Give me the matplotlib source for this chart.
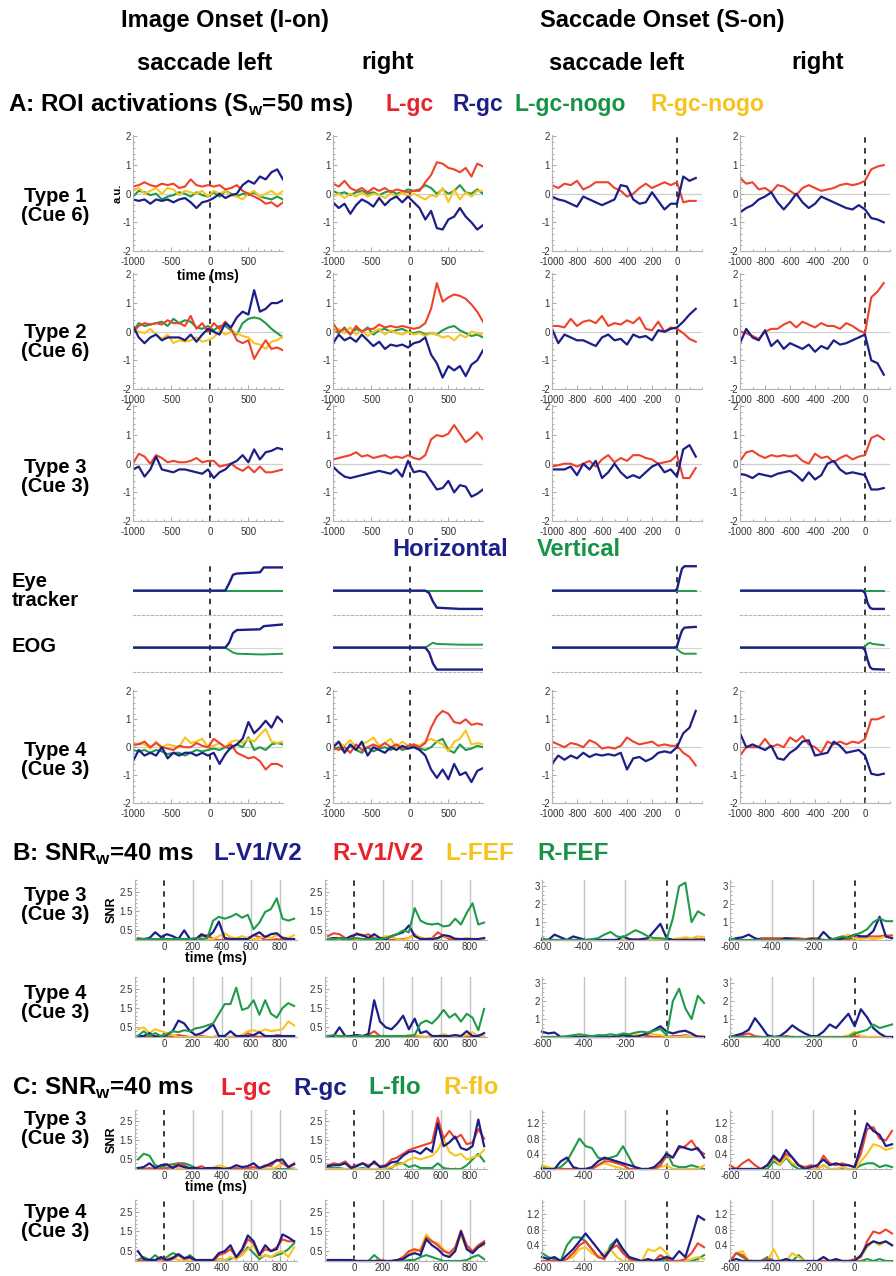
import matplotlib
matplotlib.use('Agg')
import matplotlib.pyplot as plt
from matplotlib.ticker import AutoMinorLocator

plt.rcParams['font.family'] = ['Liberation Sans', 'DejaVu Sans']
plt.rcParams['axes.unicode_minus'] = False
plt.rcParams['mathtext.fontset'] = 'custom'
plt.rcParams['mathtext.rm'] = 'Liberation Sans:bold'

W, H = 896, 1276

# trace colours
LINE = {'red': '#f0412b', 'blue': '#1c1f87', 'green': '#1e9b48', 'yellow': '#f7c51e'}

# ---------------- sampling grids (ms) ----------------
t_ion = [-1000, -925, -850, -775, -700, -625, -550, -475, -400, -325, -250, -175, -100, -25,
         50, 125, 200, 275, 350, 425, 500, 575, 650, 725, 800, 875, 950]
t_son = [-1000, -950, -900, -850, -800, -750, -700, -650, -600, -550, -500, -450,
         -400, -350, -300, -250, -200, -150, -100, -50, 0, 50, 100, 150]
t_snr_ion = [-180, -140, -100, -60, -20, 20, 60, 100, 140, 180, 220, 260, 300, 340,
             380, 420, 460, 500, 540, 580, 620, 660, 700, 740, 780, 820, 860, 900]
t_snr_son = [-600, -570, -540, -510, -480, -450, -420, -390, -360, -330, -300, -270, -240, -210,
             -180, -150, -120, -90, -60, -30, 0, 30, 60, 90, 120, 150, 180]

# ---------------- A: ROI activations ----------------
a1_left = {
    'green': [-0.1, 0.1, 0.05, -0.05, 0.0, -0.2, -0.1, -0.05, 0.05, 0.0, -0.1, 0.05, -0.05, -0.1, 0.05, -0.1, 0.1, 0.0, -0.1, 0.0, -0.05, 0.05, -0.1, -0.15, -0.2, -0.1, -0.2],
    'yellow': [0.1, 0.2, 0.0, 0.1, 0.2, 0.0, 0.2, 0.15, -0.05, 0.1, 0.05, 0.0, 0.1, -0.1, 0.1, 0.0, 0.1, -0.05, -0.1, -0.2, 0.0, 0.1, -0.1, 0.0, 0.1, -0.05, 0.1],
    'red': [0.25, 0.3, 0.4, 0.3, 0.25, 0.35, 0.3, 0.35, 0.2, 0.25, 0.5, 0.3, 0.25, 0.3, 0.25, 0.3, 0.15, 0.2, 0.3, 0.1, 0.0, -0.1, -0.2, -0.35, -0.3, -0.45, -0.3],
    'blue': [-0.2, -0.25, -0.2, -0.35, -0.2, -0.25, -0.2, -0.3, -0.2, -0.15, -0.3, -0.5, -0.3, -0.25, -0.15, 0.0, -0.15, -0.05, 0.0, 0.3, 0.45, 0.35, 0.6, 0.5, 0.75, 0.85, 0.5],
}
a1_right = {
    'green': [0.1, 0.0, 0.05, -0.05, 0.05, 0.1, 0.0, 0.05, -0.05, 0.05, 0.1, 0.0, 0.05, 0.15, 0.1, 0.15, 0.3, 0.2, 0.0, 0.15, 0.0, 0.1, 0.3, 0.05, 0.0, 0.15, 0.0],
    'yellow': [-0.1, 0.0, -0.15, 0.0, -0.1, 0.05, -0.1, 0.0, -0.05, -0.15, 0.0, -0.1, 0.05, -0.1, 0.0, -0.1, -0.2, -0.05, -0.1, 0.2, -0.3, 0.15, -0.2, 0.05, -0.1, 0.1, 0.1],
    'red': [0.35, 0.25, 0.45, 0.2, 0.1, 0.2, 0.05, 0.2, 0.1, 0.2, 0.05, 0.15, 0.1, 0.05, 0.1, 0.1, 0.4, 0.65, 1.1, 1.05, 0.9, 0.85, 0.75, 0.9, 0.6, 1.05, 0.95],
    'blue': [-0.3, -0.5, -0.35, -0.7, -0.4, -0.2, -0.3, -0.45, -0.15, -0.4, -0.2, -0.1, -0.3, -0.1, -0.3, -0.5, -0.9, -0.6, -1.2, -1.25, -0.9, -0.8, -0.5, -0.8, -1.0, -1.25, -1.1],
}
a1_son_left = {
    'red': [0.3, 0.2, 0.35, 0.3, 0.45, 0.15, 0.25, 0.4, 0.4, 0.4, 0.2, 0.1, -0.1, 0.0, 0.2, 0.35, 0.2, 0.3, 0.4, 0.3, 0.4, -0.3, -0.25, -0.25],
    'blue': [-0.1, -0.2, -0.25, -0.35, -0.45, -0.1, -0.2, -0.3, -0.4, -0.3, -0.2, 0.3, 0.25, -0.2, -0.35, -0.3, 0.05, -0.25, -0.55, -0.35, -0.35, 0.6, 0.45, 0.55],
}
a1_son_right = {
    'red': [0.55, 0.35, 0.4, 0.15, 0.2, 0.05, 0.3, 0.25, 0.1, -0.05, 0.2, 0.3, 0.2, 0.1, 0.15, 0.2, 0.3, 0.35, 0.3, 0.35, 0.45, 0.85, 0.95, 1.0],
    'blue': [-0.65, -0.5, -0.4, -0.2, -0.1, 0.05, -0.3, -0.55, -0.3, 0.0, -0.3, -0.5, -0.35, -0.1, -0.2, -0.3, -0.4, -0.5, -0.55, -0.4, -0.55, -0.85, -0.9, -1.0],
}

a2_left = {
    'green': [0.0, 0.3, 0.2, 0.25, 0.3, 0.35, 0.2, 0.45, 0.3, 0.4, 0.35, 0.15, 0.1, 0.2, 0.05, 0.2, 0.2, 0.05, -0.1, 0.3, 0.45, 0.5, 0.45, 0.3, 0.1, -0.05, -0.2],
    'yellow': [0.1, 0.0, -0.05, 0.1, -0.1, -0.25, -0.1, -0.4, -0.3, -0.35, -0.3, -0.2, -0.35, -0.3, -0.2, 0.05, -0.1, 0.0, -0.05, -0.15, -0.2, -0.4, -0.45, -0.6, -0.35, -0.3, -0.15],
    'red': [0.0, 0.2, 0.3, 0.25, 0.3, 0.25, 0.4, 0.3, 0.3, 0.2, 0.55, 0.1, 0.3, 0.0, 0.3, 0.1, 0.35, 0.1, -0.3, -0.4, -0.3, -0.95, -0.6, -0.3, -0.6, -0.55, -0.65],
    'blue': [0.2, -0.2, -0.4, -0.2, -0.1, -0.3, -0.2, -0.2, -0.2, -0.3, -0.1, -0.35, -0.1, 0.1, 0.0, -0.1, 0.3, 0.15, 0.5, 0.7, 0.6, 1.45, 0.7, 0.8, 1.0, 1.0, 1.1],
}
a2_right = {
    'green': [0.1, -0.05, 0.15, -0.1, 0.1, 0.0, 0.15, -0.1, 0.05, 0.1, 0.0, 0.05, 0.1, 0.0, -0.05, 0.0, -0.1, -0.05, -0.1, 0.05, 0.15, 0.2, 0.05, -0.05, -0.15, -0.1, -0.2],
    'yellow': [0.0, 0.1, -0.05, 0.15, -0.1, 0.05, -0.15, 0.0, 0.1, -0.1, 0.05, -0.05, -0.1, 0.0, -0.1, -0.05, -0.15, -0.05, -0.1, -0.2, -0.15, -0.3, -0.1, -0.2, 0.0, -0.05, -0.1],
    'red': [0.3, 0.0, 0.1, -0.1, 0.2, 0.0, 0.1, 0.1, 0.25, 0.15, 0.2, 0.15, 0.2, 0.15, 0.1, 0.15, 0.3, 0.8, 1.7, 1.05, 1.2, 1.3, 1.25, 1.15, 0.95, 0.7, 0.35],
    'blue': [-0.4, -0.1, -0.3, -0.2, -0.35, -0.1, -0.3, -0.5, -0.35, -0.6, -0.45, -0.5, -0.45, -0.55, -0.4, -0.35, -0.2, -0.8, -1.1, -1.6, -1.2, -1.35, -1.2, -1.55, -1.15, -1.0, -0.65],
}
a2_son_left = {
    'red': [0.2, 0.2, 0.15, 0.45, 0.2, 0.35, 0.4, 0.3, 0.55, 0.2, 0.3, 0.25, 0.4, 0.3, 0.5, 0.1, 0.05, 0.35, 0.0, 0.15, 0.1, -0.05, -0.25, -0.35],
    'blue': [0.1, -0.4, -0.1, -0.2, -0.3, -0.3, -0.4, -0.5, -0.2, -0.1, -0.3, -0.25, -0.45, -0.1, -0.2, -0.15, -0.3, 0.05, 0.0, 0.1, 0.15, 0.35, 0.6, 0.8],
}
a2_son_right = {
    'red': [0.0, -0.05, -0.15, -0.25, 0.0, 0.1, 0.1, 0.25, 0.35, 0.15, 0.35, 0.25, 0.15, 0.3, 0.2, 0.2, 0.1, 0.3, 0.2, 0.05, -0.05, 1.2, 1.4, 1.7],
    'blue': [-0.4, 0.1, -0.2, -0.3, 0.05, -0.5, -0.3, -0.6, -0.4, -0.5, -0.6, -0.45, -0.7, -0.5, -0.6, -0.3, -0.45, -0.4, -0.3, -0.2, -0.1, -1.0, -1.1, -1.5],
}

a3_left = {
    'red': [0.0, 0.35, 0.25, 0.0, 0.3, 0.2, 0.05, 0.1, 0.05, 0.05, 0.1, 0.2, 0.05, 0.1, 0.1, -0.1, -0.05, 0.0, -0.15, -0.25, -0.1, -0.3, -0.1, -0.3, -0.3, -0.25, -0.2],
    'blue': [-0.2, -0.1, -0.45, -0.2, 0.25, -0.2, -0.25, -0.3, -0.2, -0.2, -0.25, -0.3, -0.35, -0.2, -0.5, -0.3, -0.2, 0.0, 0.1, 0.3, 0.05, 0.5, 0.15, 0.4, 0.45, 0.55, 0.5],
}
a3_right = {
    'red': [0.15, 0.2, 0.25, 0.3, 0.4, 0.25, 0.3, 0.2, 0.25, 0.3, 0.2, 0.25, 0.2, 0.3, 0.2, 0.15, 0.3, 0.85, 1.0, 0.95, 1.05, 1.35, 1.05, 0.75, 0.9, 1.1, 0.85],
    'blue': [-0.1, -0.3, -0.45, -0.5, -0.45, -0.4, -0.35, -0.3, -0.25, -0.3, -0.35, -0.2, -0.45, 0.1, -0.3, -0.25, -0.3, -0.6, -0.9, -0.85, -0.6, -1.0, -0.75, -0.8, -1.15, -1.05, -0.9],
}
a3_son_left = {
    'red': [-0.1, -0.05, 0.0, 0.0, -0.1, 0.0, 0.1, -0.1, 0.15, 0.3, 0.05, 0.2, 0.1, 0.3, 0.3, 0.2, 0.15, 0.0, 0.05, 0.1, 0.3, -0.5, -0.5, -0.15],
    'blue': [-0.2, -0.2, -0.2, -0.1, -0.4, 0.0, -0.2, 0.1, -0.5, -0.3, 0.0, -0.3, -0.5, -0.4, -0.5, -0.3, -0.1, 0.0, -0.3, -0.2, -0.45, 0.5, 0.65, 0.25],
}
a3_son_right = {
    'red': [0.1, 0.4, 0.45, 0.3, 0.2, 0.3, 0.25, 0.3, 0.25, 0.3, 0.1, 0.0, 0.35, 0.2, 0.25, 0.05, 0.2, 0.3, 0.15, 0.25, 0.3, 0.9, 1.0, 0.85],
    'blue': [-0.35, -0.4, -0.5, -0.35, -0.4, -0.45, -0.35, -0.3, -0.25, -0.4, -0.6, -0.3, -0.55, -0.4, 0.0, 0.1, -0.2, -0.35, -0.3, -0.35, -0.4, -0.9, -0.9, -0.85],
}

a4_left = {
    'green': [-0.1, -0.15, -0.1, -0.2, -0.1, -0.15, -0.25, -0.2, -0.2, -0.3, -0.2, -0.1, -0.15, -0.1, -0.05, -0.1, 0.0, -0.05, 0.1, 0.0, 0.35, -0.1, 0.0, -0.1, 0.1, 0.15, 0.1],
    'yellow': [0.0, 0.15, 0.1, -0.05, 0.2, 0.0, 0.1, 0.05, 0.0, 0.35, 0.15, 0.2, 0.3, 0.0, 0.05, 0.15, 0.0, 0.2, 0.25, 0.15, 0.3, 0.2, 0.45, 0.65, 0.2, 0.15, 0.2],
    'red': [0.1, 0.1, 0.2, 0.0, 0.15, 0.0, -0.05, -0.1, 0.05, 0.0, 0.0, 0.15, 0.05, 0.0, 0.3, 0.15, 0.0, 0.1, -0.2, -0.3, -0.4, -0.35, -0.5, -0.8, -0.6, -0.6, -0.7],
    'blue': [-0.5, -0.1, -0.3, -0.2, -0.3, 0.0, -0.4, -0.2, -0.3, -0.2, -0.2, -0.3, -0.2, -0.3, -0.2, -0.6, -0.25, 0.0, 0.1, 0.3, 0.9, 0.5, 0.7, 0.95, 0.7, 1.1, 0.9],
}
a4_right = {
    'green': [-0.1, 0.0, -0.15, 0.05, -0.1, -0.2, 0.0, -0.15, -0.05, 0.0, -0.1, 0.05, -0.1, -0.05, 0.05, -0.05, -0.1, 0.0, 0.2, 0.3, -0.1, -0.2, 0.1, -0.1, -0.05, 0.05, 0.0],
    'yellow': [0.0, 0.15, 0.05, 0.25, 0.0, 0.1, 0.2, 0.35, 0.05, 0.15, 0.3, 0.0, 0.2, 0.05, 0.1, 0.05, 0.2, 0.3, 0.2, 0.1, -0.15, 0.2, 0.3, 0.6, 0.1, 0.15, 0.1],
    'red': [0.0, -0.1, 0.0, -0.2, 0.1, -0.1, 0.0, 0.1, 0.0, 0.15, 0.0, 0.1, -0.05, 0.05, 0.1, 0.0, 0.15, 0.7, 1.1, 1.3, 1.2, 0.9, 0.85, 1.0, 0.8, 0.85, 0.8],
    'blue': [0.0, 0.2, -0.2, 0.1, -0.1, 0.2, -0.3, 0.0, -0.1, -0.2, 0.0, -0.1, 0.05, -0.05, 0.0, -0.1, -0.3, -0.8, -1.1, -0.8, -1.15, -0.6, -1.0, -0.9, -1.25, -0.85, -0.75],
}
a4_son_left = {
    'red': [0.2, 0.1, 0.0, 0.15, 0.1, 0.0, 0.25, 0.15, -0.05, 0.0, -0.05, 0.05, 0.35, 0.2, 0.1, 0.15, 0.2, 0.05, 0.1, 0.05, 0.05, -0.2, -0.35, -0.65],
    'blue': [-0.6, -0.3, -0.45, -0.3, -0.4, -0.2, -0.35, -0.25, -0.3, -0.25, -0.3, -0.2, -0.8, -0.4, -0.35, -0.5, -0.4, -0.2, -0.15, -0.2, 0.0, 0.5, 0.7, 1.3],
}
a4_son_right = {
    'red': [-0.3, 0.0, 0.0, 0.0, 0.3, 0.0, 0.1, 0.0, 0.35, 0.2, 0.4, 0.1, 0.0, -0.2, 0.2, 0.1, 0.2, 0.1, 0.2, 0.15, 0.3, 1.0, 1.0, 1.1],
    'blue': [0.5, 0.0, 0.1, 0.0, -0.1, 0.05, -0.4, -0.45, -0.2, -0.05, 0.2, 0.25, -0.3, -0.25, -0.2, 0.2, 0.05, -0.2, -0.15, -0.1, -0.3, -0.95, -1.0, -0.95],
}

# ---------------- eye tracker / EOG (normalised position) ----------------
eye_t_ion = [-1000, 200, 250, 300, 350, 650, 700, 950]
eye_t_son = [-1000, -20, 0, 20, 40, 60, 150]
eye_left = {'green': [0, 0, 0, 0, 0, 0, 0, 0], 'blue': [0, 0, 0.3, 0.65, 0.7, 0.75, 0.95, 0.95]}
eye_right = {'green': [0, 0, 0, 0, 0, 0, 0, 0], 'blue': [0, 0, -0.1, -0.45, -0.7, -0.75, -0.75, -0.75]}
eye_son_left = {'green': [0, 0, 0, 0, 0, 0, 0], 'blue': [0, 0, 0.05, 0.5, 0.9, 1.0, 1.0]}
eye_son_right = {'green': [0, 0, 0, 0, 0, 0, 0], 'blue': [0, 0, -0.1, -0.5, -0.7, -0.75, -0.75]}
eog_left = {'green': [0, 0, -0.1, -0.2, -0.25, -0.28, -0.28, -0.25], 'blue': [0, 0, 0.2, 0.6, 0.72, 0.75, 0.88, 0.95]}
eog_right = {'green': [0, 0, 0.1, 0.2, 0.15, 0.12, 0.12, 0.12], 'blue': [0, 0, -0.2, -0.65, -0.9, -0.9, -0.9, -0.9]}
eog_son_left = {'green': [0, 0, -0.05, -0.15, -0.22, -0.25, -0.25], 'blue': [0, 0, 0.05, 0.4, 0.7, 0.82, 0.85]}
eog_son_right = {'green': [0, 0, 0.05, 0.15, 0.2, 0.15, 0.1], 'blue': [0, 0, -0.1, -0.5, -0.8, -0.88, -0.9]}

# ---------------- B: SNR, V1/V2 and FEF ----------------
b3_left = {
    'red': [0.1, 0.05, 0.0, 0.0, 0.05, 0.0, 0.0, 0.05, 0.0, 0.0, 0.05, 0.2, 0.25, 0.05, 0.0, 0.0, 0.0, 0.05, 0.0, 0.1, 0.25, 0.15, 0.0, 0.0, 0.05, 0.0, 0.0, 0.0],
    'yellow': [0.0, 0.0, 0.0, 0.0, 0.0, 0.0, 0.0, 0.0, 0.0, 0.0, 0.0, 0.0, 0.0, 0.05, 0.2, 0.35, 0.15, 0.1, 0.2, 0.1, 0.05, 0.1, 0.2, 0.1, 0.25, 0.15, 0.1, 0.25],
    'blue': [0.05, 0.05, 0.1, 0.4, 0.15, 0.3, 0.2, 0.05, 0.5, 0.05, 0.05, 0.3, 0.15, 0.4, 0.95, 0.1, 0.05, 0.05, 0.05, 0.05, 0.25, 0.4, 0.15, 0.3, 0.35, 0.1, 0.05, 0.05],
    'green': [0.05, 0.05, 0.05, 0.05, 0.05, 0.05, 0.05, 0.05, 0.05, 0.05, 0.1, 0.05, 0.1, 1.0, 1.2, 1.1, 1.2, 1.35, 1.15, 1.3, 0.55, 0.9, 1.45, 1.6, 2.15, 1.1, 1.0, 1.1],
}
b3_right = {
    'red': [0.2, 0.35, 0.3, 0.1, 0.05, 0.35, 0.2, 0.3, 0.1, 0.05, 0.0, 0.0, 0.05, 0.05, 0.1, 0.3, 0.05, 0.05, 0.1, 0.4, 0.2, 0.05, 0.0, 0.0, 0.05, 0.0, 0.05, 0.05],
    'yellow': [0.0, 0.0, 0.0, 0.05, 0.0, 0.0, 0.0, 0.0, 0.05, 0.1, 0.2, 0.15, 0.05, 0.0, 0.1, 0.25, 0.15, 0.05, 0.1, 0.05, 0.2, 0.15, 0.1, 0.05, 0.1, 0.05, 0.0, 0.05],
    'blue': [0.05, 0.1, 0.1, 0.05, 0.2, 0.3, 0.25, 0.1, 0.3, 0.1, 0.05, 0.2, 0.3, 0.4, 0.75, 0.2, 0.05, 0.05, 0.05, 0.1, 0.25, 0.2, 0.05, 0.05, 0.05, 0.05, 0.05, 0.1],
    'green': [0.05, 0.05, 0.1, 0.05, 0.05, 0.1, 0.05, 0.05, 0.05, 0.05, 0.1, 0.2, 0.3, 0.5, 0.4, 1.65, 1.0, 0.85, 0.8, 0.85, 0.7, 0.75, 1.1, 0.8, 1.4, 1.9, 0.8, 0.9],
}
b3_son_left = {
    'red': [0.0, 0.0, 0.0, 0.0, 0.0, 0.0, 0.0, 0.0, 0.0, 0.0, 0.0, 0.0, 0.0, 0.0, 0.0, 0.05, 0.0, 0.0, 0.0, 0.0, 0.05, 0.05, 0.05, 0.05, 0.05, 0.05, 0.05],
    'yellow': [0.0, 0.0, 0.0, 0.0, 0.0, 0.0, 0.0, 0.0, 0.0, 0.0, 0.0, 0.0, 0.0, 0.0, 0.0, 0.0, 0.0, 0.0, 0.0, 0.0, 0.05, 0.05, 0.1, 0.15, 0.1, 0.2, 0.15],
    'blue': [0.0, 0.0, 0.3, 0.15, 0.0, 0.2, 0.1, 0.0, 0.0, 0.0, 0.0, 0.0, 0.0, 0.2, 0.05, 0.0, 0.05, 0.1, 0.5, 0.9, 0.1, 0.0, 0.0, 0.0, 0.0, 0.0, 0.0],
    'green': [0.1, 0.0, 0.0, 0.0, 0.0, 0.0, 0.0, 0.0, 0.05, 0.1, 0.3, 0.45, 0.2, 0.15, 0.35, 0.55, 0.4, 0.2, 0.1, 0.1, 0.05, 1.2, 3.0, 3.2, 1.0, 1.6, 1.4],
}
b3_son_right = {
    'red': [0.0, 0.0, 0.0, 0.0, 0.0, 0.1, 0.1, 0.1, 0.1, 0.1, 0.1, 0.1, 0.05, 0.1, 0.1, 0.0, 0.0, 0.0, 0.0, 0.05, 0.1, 0.2, 0.2, 0.2, 0.2, 0.25, 0.25],
    'yellow': [0.0, 0.0, 0.0, 0.0, 0.0, 0.0, 0.0, 0.0, 0.0, 0.0, 0.0, 0.0, 0.0, 0.0, 0.0, 0.0, 0.0, 0.1, 0.2, 0.3, 0.1, 0.05, 0.1, 0.05, 0.1, 0.2, 0.15],
    'blue': [0.0, 0.1, 0.15, 0.3, 0.1, 0.0, 0.0, 0.0, 0.0, 0.1, 0.05, 0.0, 0.0, 0.05, 0.0, 0.45, 0.1, 0.0, 0.1, 0.15, 0.3, 0.2, 0.2, 0.5, 1.3, 0.2, 0.1],
    'green': [0.1, 0.0, 0.0, 0.0, 0.0, 0.0, 0.0, 0.0, 0.0, 0.0, 0.0, 0.0, 0.0, 0.0, 0.0, 0.0, 0.0, 0.1, 0.2, 0.1, 0.3, 0.4, 0.6, 1.0, 1.2, 1.05, 1.05],
}
b4_left = {
    'red': [0.05, 0.0, 0.0, 0.05, 0.0, 0.0, 0.05, 0.1, 0.05, 0.0, 0.0, 0.05, 0.0, 0.0, 0.05, 0.0, 0.0, 0.05, 0.0, 0.2, 0.05, 0.0, 0.05, 0.0, 0.1, 0.05, 0.0, 0.0],
    'yellow': [0.4, 0.5, 0.2, 0.4, 0.3, 0.2, 0.1, 0.0, 0.0, 0.0, 0.0, 0.0, 0.0, 0.0, 0.0, 0.0, 0.0, 0.0, 0.1, 0.3, 0.35, 0.25, 0.4, 0.3, 0.35, 0.4, 0.8, 0.6],
    'blue': [0.05, 0.05, 0.2, 0.0, 0.05, 0.1, 0.3, 0.85, 0.7, 0.3, 0.1, 0.2, 0.4, 0.65, 0.05, 0.05, 0.3, 0.05, 0.05, 0.05, 0.1, 0.25, 0.05, 0.05, 0.05, 0.05, 0.05, 0.05],
    'green': [0.05, 0.3, 0.05, 0.2, 0.05, 0.15, 0.3, 0.25, 0.35, 0.3, 0.45, 0.5, 0.6, 0.7, 1.2, 1.7, 1.7, 2.55, 1.4, 1.5, 1.9, 1.15, 1.9, 1.2, 1.0, 1.5, 1.75, 1.6],
}
b4_right = {
    'red': [0.0, 0.05, 0.0, 0.0, 0.05, 0.0, 0.05, 0.1, 0.3, 0.05, 0.0, 0.0, 0.05, 0.0, 0.0, 0.05, 0.0, 0.0, 0.05, 0.0, 0.0, 0.0, 0.05, 0.0, 0.0, 0.05, 0.1, 0.0],
    'yellow': [0.0, 0.0, 0.0, 0.0, 0.0, 0.0, 0.0, 0.0, 0.0, 0.0, 0.0, 0.0, 0.0, 0.05, 0.1, 0.1, 0.05, 0.0, 0.0, 0.05, 0.15, 0.05, 0.0, 0.05, 0.1, 0.25, 0.05, 0.0],
    'blue': [0.05, 0.05, 0.5, 0.05, 0.05, 0.1, 0.05, 0.15, 1.9, 0.8, 0.5, 0.4, 0.7, 1.1, 0.4, 0.95, 0.2, 0.3, 0.05, 0.05, 0.05, 0.05, 0.1, 0.05, 0.3, 0.05, 0.05, 0.2],
    'green': [0.05, 0.1, 0.05, 0.05, 0.0, 0.05, 0.05, 0.05, 0.05, 0.05, 0.05, 0.05, 0.05, 0.05, 0.05, 0.1, 0.7, 0.85, 0.7, 1.0, 1.4, 1.0, 1.2, 0.8, 1.2, 1.0, 0.35, 1.45],
}
b4_son_left = {
    'red': [0.0, 0.0, 0.0, 0.0, 0.0, 0.0, 0.0, 0.0, 0.0, 0.0, 0.0, 0.0, 0.0, 0.0, 0.0, 0.05, 0.1, 0.05, 0.0, 0.0, 0.0, 0.05, 0.05, 0.1, 0.05, 0.05, 0.05],
    'yellow': [0.0, 0.0, 0.0, 0.0, 0.0, 0.0, 0.05, 0.0, 0.0, 0.0, 0.0, 0.0, 0.0, 0.05, 0.1, 0.15, 0.1, 0.2, 0.15, 0.1, 0.05, 0.0, 0.0, 0.05, 0.05, 0.0, 0.05],
    'blue': [0.3, 0.2, 0.25, 0.0, 0.0, 0.0, 0.0, 0.0, 0.0, 0.0, 0.0, 0.0, 0.05, 0.1, 0.05, 0.0, 0.1, 0.2, 0.4, 0.6, 0.3, 0.2, 0.3, 0.35, 0.2, 0.0, 0.0],
    'green': [0.0, 0.0, 0.0, 0.0, 0.05, 0.1, 0.15, 0.1, 0.05, 0.1, 0.1, 0.15, 0.1, 0.2, 0.15, 0.25, 0.3, 0.25, 0.35, 0.45, 0.1, 2.0, 2.7, 1.6, 1.0, 2.3, 1.9],
}
b4_son_right = {
    'red': [0.0, 0.0, 0.1, 0.2, 0.05, 0.0, 0.0, 0.0, 0.0, 0.05, 0.0, 0.0, 0.0, 0.0, 0.0, 0.0, 0.0, 0.0, 0.0, 0.0, 0.05, 0.0, 0.0, 0.0, 0.0, 0.0, 0.0],
    'yellow': [0.0, 0.0, 0.0, 0.0, 0.0, 0.0, 0.0, 0.0, 0.0, 0.0, 0.0, 0.0, 0.0, 0.0, 0.0, 0.0, 0.0, 0.0, 0.0, 0.1, 0.3, 0.05, 0.0, 0.0, 0.0, 0.0, 0.0],
    'blue': [0.0, 0.1, 0.2, 0.4, 1.05, 0.6, 0.1, 0.0, 0.05, 0.3, 0.65, 0.4, 0.2, 0.05, 0.05, 0.3, 0.7, 0.5, 0.9, 1.3, 0.6, 1.55, 1.1, 0.5, 0.2, 0.0, 0.0],
    'green': [0.05, 0.0, 0.0, 0.0, 0.0, 0.0, 0.0, 0.0, 0.0, 0.0, 0.0, 0.0, 0.0, 0.0, 0.0, 0.0, 0.0, 0.0, 0.0, 0.0, 0.2, 0.3, 0.4, 0.7, 0.5, 0.6, 0.7],
}

# ---------------- C: SNR, gc and flo ----------------
c3_left = {
    'green': [0.5, 0.8, 0.7, 0.2, 0.1, 0.2, 0.25, 0.3, 0.3, 0.2, 0.05, 0.0, 0.0, 0.0, 0.0, 0.0, 0.0, 0.0, 0.0, 0.0, 0.0, 0.0, 0.0, 0.0, 0.0, 0.0, 0.0, 0.0],
    'yellow': [0.0, 0.0, 0.0, 0.0, 0.0, 0.05, 0.1, 0.05, 0.0, 0.0, 0.0, 0.0, 0.0, 0.05, 0.2, 0.1, 0.0, 0.0, 0.0, 0.0, 0.0, 0.0, 0.05, 0.0, 0.1, 0.3, 0.1, 0.05],
    'red': [0.0, 0.0, 0.05, 0.0, 0.0, 0.05, 0.1, 0.3, 0.2, 0.0, 0.05, 0.15, 0.0, 0.05, 0.0, 0.0, 0.0, 0.05, 0.0, 0.05, 0.1, 0.05, 0.2, 0.15, 0.5, 0.3, 0.1, 0.3],
    'blue': [0.05, 0.1, 0.3, 0.05, 0.2, 0.25, 0.05, 0.2, 0.1, 0.05, 0.05, 0.0, 0.05, 0.05, 0.05, 0.0, 0.05, 0.2, 0.1, 0.15, 0.3, 0.05, 0.15, 0.3, 0.45, 0.5, 0.1, 0.25],
}
c3_right = {
    'green': [0.1, 0.05, 0.05, 0.0, 0.0, 0.0, 0.05, 0.0, 0.0, 0.0, 0.0, 0.05, 0.3, 0.3, 0.1, 0.2, 0.05, 0.05, 0.05, 0.3, 0.05, 0.0, 0.0, 0.0, 0.2, 0.5, 0.8, 0.4],
    'yellow': [0.0, 0.0, 0.0, 0.0, 0.0, 0.0, 0.0, 0.0, 0.0, 0.0, 0.05, 0.1, 0.2, 0.3, 0.5, 0.6, 0.5, 0.6, 0.7, 1.0, 1.6, 0.9, 0.7, 0.8, 0.5, 0.6, 0.7, 1.0],
    'red': [0.2, 0.3, 0.25, 0.4, 0.1, 0.2, 0.3, 0.2, 0.3, 0.15, 0.2, 0.5, 0.6, 0.8, 1.0, 1.1, 1.2, 1.3, 1.4, 2.7, 1.6, 2.0, 1.6, 1.8, 1.3, 1.4, 2.1, 1.6],
    'blue': [0.15, 0.2, 0.2, 0.3, 0.05, 0.15, 0.3, 0.1, 0.4, 0.1, 0.15, 0.35, 0.4, 0.7, 0.9, 0.95, 0.8, 1.1, 0.9, 2.4, 1.2, 1.4, 1.7, 1.1, 1.0, 1.2, 2.6, 1.2],
}
c3_son_left = {
    'green': [0.05, 0.0, 0.0, 0.05, 0.2, 0.5, 0.8, 0.6, 0.55, 0.3, 0.25, 0.3, 0.35, 0.6, 0.3, 0.0, 0.0, 0.0, 0.0, 0.1, 0.45, 0.1, 0.05, 0.05, 0.1, 0.05, 0.0],
    'yellow': [0.1, 0.05, 0.0, 0.0, 0.0, 0.0, 0.0, 0.0, 0.0, 0.1, 0.15, 0.1, 0.05, 0.0, 0.0, 0.0, 0.0, 0.0, 0.0, 0.05, 0.1, 0.0, 0.0, 0.0, 0.0, 0.0, 0.1],
    'red': [0.0, 0.0, 0.0, 0.0, 0.0, 0.0, 0.0, 0.0, 0.0, 0.1, 0.2, 0.2, 0.15, 0.1, 0.0, 0.0, 0.0, 0.0, 0.0, 0.1, 0.35, 0.3, 0.55, 0.6, 0.75, 0.5, 0.4],
    'blue': [0.0, 0.0, 0.0, 0.2, 0.3, 0.05, 0.0, 0.0, 0.05, 0.2, 0.3, 0.25, 0.2, 0.15, 0.1, 0.05, 0.0, 0.0, 0.05, 0.2, 0.4, 0.3, 0.6, 0.55, 0.5, 0.55, 0.3],
}
c3_son_right = {
    'green': [0.0, 0.0, 0.0, 0.0, 0.0, 0.0, 0.0, 0.2, 0.1, 0.3, 0.1, 0.0, 0.0, 0.0, 0.0, 0.1, 0.0, 0.0, 0.0, 0.0, 0.0, 0.1, 0.15, 0.15, 0.05, 0.1, 0.05],
    'yellow': [0.0, 0.0, 0.0, 0.0, 0.0, 0.0, 0.1, 0.3, 0.1, 0.35, 0.15, 0.1, 0.05, 0.0, 0.0, 0.1, 0.0, 0.0, 0.05, 0.0, 0.0, 0.2, 0.4, 0.65, 0.6, 0.5, 0.55],
    'red': [0.1, 0.0, 0.15, 0.25, 0.1, 0.0, 0.1, 0.3, 0.2, 0.4, 0.3, 0.1, 0.05, 0.1, 0.05, 0.35, 0.15, 0.1, 0.15, 0.1, 0.05, 0.4, 1.05, 1.1, 0.8, 0.75, 1.0],
    'blue': [0.0, 0.0, 0.0, 0.0, 0.0, 0.0, 0.1, 0.35, 0.2, 0.5, 0.3, 0.1, 0.0, 0.05, 0.1, 0.25, 0.1, 0.15, 0.1, 0.1, 0.05, 0.6, 1.2, 1.0, 0.9, 0.6, 0.65],
}
c4_left = {
    'green': [0.05, 0.2, 0.05, 0.3, 0.05, 0.2, 0.4, 0.3, 0.1, 0.3, 0.05, 0.0, 0.0, 0.0, 0.1, 0.05, 0.1, 0.2, 0.3, 0.7, 0.4, 0.1, 0.3, 0.2, 0.3, 0.4, 0.6, 0.9],
    'yellow': [0.0, 0.0, 0.05, 0.0, 0.0, 0.1, 0.2, 0.05, 0.0, 0.0, 0.0, 0.0, 0.0, 0.05, 0.1, 0.05, 0.2, 0.1, 0.3, 0.6, 0.8, 0.2, 0.3, 0.2, 0.4, 0.5, 0.2, 0.7],
    'red': [0.05, 0.0, 0.0, 0.05, 0.1, 0.0, 0.1, 0.3, 0.1, 0.15, 0.0, 0.0, 0.05, 0.0, 0.3, 0.4, 0.6, 0.2, 0.5, 1.1, 0.9, 0.3, 0.6, 0.5, 0.7, 1.1, 1.0, 1.0],
    'blue': [0.5, 0.1, 0.05, 0.05, 0.2, 0.05, 0.15, 0.35, 0.15, 0.2, 0.05, 0.05, 0.05, 0.05, 0.4, 0.5, 0.8, 0.2, 0.6, 1.3, 1.0, 0.3, 0.8, 0.5, 0.6, 1.35, 1.2, 1.0],
}
c4_right = {
    'green': [0.0, 0.0, 0.0, 0.0, 0.0, 0.0, 0.0, 0.0, 0.3, 0.05, 0.0, 0.0, 0.0, 0.0, 0.05, 0.05, 0.2, 0.3, 0.2, 0.1, 0.0, 0.0, 0.0, 0.0, 0.05, 0.2, 0.3, 0.1],
    'yellow': [0.0, 0.0, 0.0, 0.0, 0.0, 0.0, 0.0, 0.0, 0.0, 0.0, 0.0, 0.0, 0.05, 0.15, 0.4, 0.5, 0.6, 1.35, 1.0, 0.9, 0.6, 0.3, 0.6, 1.3, 0.6, 0.5, 0.7, 0.8],
    'red': [0.0, 0.0, 0.0, 0.0, 0.0, 0.0, 0.0, 0.0, 0.0, 0.05, 0.0, 0.0, 0.05, 0.2, 0.5, 0.6, 0.5, 1.2, 1.0, 0.8, 0.5, 0.4, 0.7, 1.55, 0.8, 0.5, 0.8, 1.0],
    'blue': [0.05, 0.05, 0.05, 0.05, 0.05, 0.0, 0.0, 0.0, 0.0, 0.0, 0.0, 0.0, 0.05, 0.1, 0.3, 0.4, 0.3, 1.1, 0.8, 0.6, 0.3, 0.2, 0.5, 1.5, 0.6, 0.4, 0.7, 0.9],
}
c4_son_left = {
    'green': [0.2, 0.1, 0.05, 0.0, 0.4, 0.6, 0.6, 0.5, 0.3, 0.1, 0.05, 0.4, 0.55, 0.2, 0.1, 0.0, 0.0, 0.0, 0.0, 0.0, 0.05, 0.0, 0.0, 0.0, 0.0, 0.05, 0.15],
    'yellow': [0.0, 0.0, 0.0, 0.0, 0.05, 0.1, 0.3, 0.35, 0.2, 0.1, 0.2, 0.3, 0.1, 0.0, 0.0, 0.0, 0.0, 0.3, 0.25, 0.35, 0.2, 0.0, 0.0, 0.0, 0.05, 0.1, 0.05],
    'red': [0.0, 0.0, 0.0, 0.0, 0.05, 0.2, 0.4, 0.5, 0.3, 0.1, 0.05, 0.3, 0.4, 0.2, 0.05, 0.0, 0.0, 0.0, 0.0, 0.15, 0.05, 0.0, 0.0, 0.05, 0.2, 0.45, 0.35],
    'blue': [0.1, 0.05, 0.1, 0.0, 0.15, 0.3, 0.5, 0.7, 0.5, 0.3, 0.1, 0.3, 0.55, 0.3, 0.1, 0.05, 0.0, 0.05, 0.0, 0.05, 0.1, 0.05, 0.25, 0.1, 0.6, 1.15, 1.05],
}
c4_son_right = {
    'green': [0.0, 0.2, 0.1, 0.0, 0.0, 0.0, 0.1, 0.0, 0.0, 0.0, 0.0, 0.15, 0.0, 0.0, 0.0, 0.0, 0.0, 0.0, 0.0, 0.0, 0.0, 0.0, 0.05, 0.0, 0.05, 0.0, 0.0],
    'yellow': [0.0, 0.2, 0.25, 0.0, 0.0, 0.0, 0.0, 0.3, 0.0, 0.0, 0.2, 0.1, 0.0, 0.0, 0.0, 0.1, 0.0, 0.0, 0.0, 0.0, 0.0, 0.1, 0.35, 0.5, 0.4, 0.5, 0.4],
    'red': [0.0, 0.2, 0.15, 0.0, 0.0, 0.0, 0.05, 0.0, 0.0, 0.0, 0.0, 0.0, 0.0, 0.0, 0.0, 0.0, 0.0, 0.0, 0.0, 0.0, 0.05, 0.1, 0.5, 0.75, 0.7, 0.8, 0.7],
    'blue': [0.0, 0.05, 0.0, 0.0, 0.0, 0.0, 0.0, 0.0, 0.0, 0.05, 0.0, 0.0, 0.0, 0.0, 0.0, 0.1, 0.0, 0.05, 0.0, 0.0, 0.0, 0.15, 0.4, 0.5, 0.45, 0.5, 0.4],
}

# legend labels
legend_a = [('L-gc', '#e8232b'), ('R-gc', '#1c1f87'), ('L-gc-nogo', '#179347'), ('R-gc-nogo', '#f6c21c')]
legend_b = [('L-V1/V2', '#1c1f87'), ('R-V1/V2', '#e8232b'), ('L-FEF', '#f6c21c'), ('R-FEF', '#179347')]
legend_c = [('L-gc', '#e8232b'), ('R-gc', '#1c1f87'), ('L-flo', '#179347'), ('R-flo', '#f6c21c')]

# ============================================================
fig = plt.figure(figsize=(W / 100, H / 100), dpi=100)


def px_axes(x0, y0, x1, y1):
    return fig.add_axes([x0 / W, 1 - y1 / H, (x1 - x0) / W, (y1 - y0) / H])


def ftext(x, y, s, **kw):
    kw.setdefault('fontweight', 'bold')
    kw.setdefault('va', 'center')
    fig.text(x / W, 1 - y / H, s, **kw)


def style(ax, xlim, ylim, xticks, yticks, xminor, yminor, xpad=1.5):
    ax.set_xlim(*xlim)
    ax.set_ylim(*ylim)
    ax.patch.set_alpha(0)
    for side in ('top', 'right'):
        ax.spines[side].set_visible(False)
    for side in ('left', 'bottom'):
        ax.spines[side].set_color('#b4b4b4')
        ax.spines[side].set_linewidth(0.8)
    ax.set_xticks(xticks)
    ax.set_xticklabels([str(v) for v in xticks])
    ax.set_yticks(yticks)
    ax.set_yticklabels([str(v) for v in yticks])
    ax.xaxis.set_minor_locator(AutoMinorLocator(xminor))
    ax.yaxis.set_minor_locator(AutoMinorLocator(yminor))
    ax.tick_params(which='both', direction='in', color='#9a9a9a', width=0.6,
                   labelsize=7, labelcolor='#333333', pad=1.5)
    ax.tick_params(axis='x', which='major', pad=xpad)
    ax.tick_params(which='major', length=3)
    ax.tick_params(which='minor', length=1.5)


def zero_line(ax):
    ax.axvline(0, color='#2a2a2a', lw=1.3, ls=(0, (3, 3)), zorder=1)


# ---------------- headers ----------------
ftext(225, 21, 'Image Onset (I-on)', ha='center', fontsize=17)
ftext(662, 21, 'Saccade Onset (S-on)', ha='center', fontsize=17)
ftext(205, 63, 'saccade left', ha='center', fontsize=17)
ftext(388, 63, 'right', ha='center', fontsize=17)
ftext(617, 63, 'saccade left', ha='center', fontsize=17)
ftext(818, 63, 'right', ha='center', fontsize=17)

ftext(8, 104, 'A: ROI activations (S$_{\\mathrm{w}}$=50 ms)', fontsize=17.5)
for (lab, col), x in zip(legend_a, [385, 452, 515, 650]):
    ftext(x, 104, lab, color=col, fontsize=16.5)

# ---------------- panel A ----------------
roi_cols = [(133, 283), (333, 483), (552, 702), (740, 890)]
roi_rows = [
    ('Type 1\n(Cue 6)', 206, (135, 251), [a1_left, a1_right, a1_son_left, a1_son_right]),
    ('Type 2\n(Cue 6)', 342, (273, 389), [a2_left, a2_right, a2_son_left, a2_son_right]),
    ('Type 3\n(Cue 3)', 477, (405, 521), [a3_left, a3_right, a3_son_left, a3_son_right]),
    ('Type 4\n(Cue 3)', 760, (690, 803), [a4_left, a4_right, a4_son_left, a4_son_right]),
]
for label, ly, (y0, y1), panels in roi_rows:
    ftext(55, ly, label, ha='center', fontsize=14.5, linespacing=1.05)
    for ci, traces in enumerate(panels):
        x0, x1 = roi_cols[ci]
        ax = px_axes(x0, y0, x1, y1)
        if ci < 2:
            t = t_ion
            style(ax, (-1000, 950), (-2, 2.05), [-1000, -500, 0, 500], [-2, -1, 0, 1, 2], 5, 5, xpad=4)
        else:
            t = t_son
            style(ax, (-1000, 200), (-2, 2.05), [-1000, -800, -600, -400, -200, 0], [-2, -1, 0, 1, 2], 2, 5, xpad=4)
        ax.axhline(0, color='#cfcfcf', lw=0.9, zorder=0)
        zero_line(ax)
        for key in ('green', 'yellow', 'red', 'blue'):
            if key in traces:
                ax.plot(t, traces[key], color=LINE[key], lw=1.6 if key == 'blue' else 1.5, zorder=2)
        if label.startswith('Type 1') and ci == 0:
            ax.set_ylabel('a.u.', fontsize=8, fontweight='bold', labelpad=0)
            ax.set_xlabel('time (ms)', fontsize=10, fontweight='bold', labelpad=1.5)

# ---------------- eye tracker / EOG ----------------
ftext(392, 550, 'Horizontal', color='#1c1f87', fontsize=17)
ftext(537, 550, 'Vertical', color='#179347', fontsize=17)
ftext(12, 591, 'Eye\ntracker', fontsize=14.5, linespacing=1.0)
ftext(12, 647, 'EOG', fontsize=14.5)

eye_rows = [((565, 615), [eye_left, eye_right, eye_son_left, eye_son_right]),
            ((622, 672), [eog_left, eog_right, eog_son_left, eog_son_right])]
for (y0, y1), panels in eye_rows:
    for ci, traces in enumerate(panels):
        x0, x1 = roi_cols[ci]
        ax = px_axes(x0, y0, x1, y1)
        t = eye_t_ion if ci < 2 else eye_t_son
        ax.set_xlim(-1000, 950 if ci < 2 else 200)
        ax.set_ylim(-1, 1.05)
        ax.patch.set_alpha(0)
        for side in ('top', 'right', 'left'):
            ax.spines[side].set_visible(False)
        ax.spines['bottom'].set_color('#b4b4b4')
        ax.spines['bottom'].set_linestyle((0, (2, 2)))
        ax.set_xticks([])
        ax.set_yticks([])
        ax.axhline(0, color='#d5d5d5', lw=0.8, zorder=0)
        zero_line(ax)
        ax.plot(t, traces['green'], color=LINE['green'], lw=1.4, zorder=2)
        ax.plot(t, traces['blue'], color=LINE['blue'], lw=1.7, zorder=3)

# ---------------- panels B and C ----------------
snr_cols = [(135, 297), (325, 487), (542, 703), (730, 891)]


def snr_panel(ax, ci, traces, order, son_ylim, son_yticks):
    if ci < 2:
        t = t_snr_ion
        style(ax, (-200, 920), (0, 3.1), [0, 200, 400, 600, 800], [0.5, 1.5, 2.5], 4, 5)
        for xv in (200, 400, 600, 800):
            ax.axvline(xv, color='#c4c4c4', lw=1.0, zorder=0)
    else:
        t = t_snr_son
        style(ax, (-600, 175), son_ylim, [-600, -400, -200, 0], son_yticks, 4, 4)
        for xv in (-400, -200):
            ax.axvline(xv, color='#c4c4c4', lw=1.0, zorder=0)
    zero_line(ax)
    for key in order:
        ax.plot(t, traces[key], color=LINE[key], lw=1.6 if key == 'blue' else 1.5,
                zorder=2, clip_on=False)


ftext(12, 854, 'B: SNR$_{\\mathrm{w}}$=40 ms', fontsize=17.5)
for (lab, col), x in zip(legend_b, [213, 332, 445, 537]):
    ftext(x, 854, lab, color=col, fontsize=17.5)

b_rows = [('Type 3\n(Cue 3)', 905, (880, 940), [b3_left, b3_right, b3_son_left, b3_son_right]),
          ('Type 4\n(Cue 3)', 1003, (977, 1037), [b4_left, b4_right, b4_son_left, b4_son_right])]
for label, ly, (y0, y1), panels in b_rows:
    ftext(55, ly, label, ha='center', fontsize=14.5, linespacing=1.05)
    for ci, traces in enumerate(panels):
        x0, x1 = snr_cols[ci]
        ax = px_axes(x0, y0, x1, y1)
        snr_panel(ax, ci, traces, ('red', 'yellow', 'blue', 'green'), (0, 3.35), [1, 2, 3])
        if label.startswith('Type 3') and ci == 0:
            ax.set_ylabel('SNR', fontsize=9, fontweight='bold', labelpad=1)
            ax.set_xlabel('time (ms)', fontsize=10, fontweight='bold', labelpad=-1)

ftext(12, 1088, 'C: SNR$_{\\mathrm{w}}$=40 ms', fontsize=17.5)
for (lab, col), x in zip(legend_c, [220, 293, 368, 443]):
    ftext(x, 1088, lab, color=col, fontsize=17.5)

c_rows = [('Type 3\n(Cue 3)', 1129, (1110, 1169), [c3_left, c3_right, c3_son_left, c3_son_right]),
          ('Type 4\n(Cue 3)', 1222, (1200, 1261), [c4_left, c4_right, c4_son_left, c4_son_right])]
for label, ly, (y0, y1), panels in c_rows:
    ftext(55, ly, label, ha='center', fontsize=14.5, linespacing=1.05)
    for ci, traces in enumerate(panels):
        x0, x1 = snr_cols[ci]
        ax = px_axes(x0, y0, x1, y1)
        snr_panel(ax, ci, traces, ('green', 'yellow', 'red', 'blue'), (0, 1.55), [0.4, 0.8, 1.2])
        if label.startswith('Type 3') and ci == 0:
            ax.set_ylabel('SNR', fontsize=9, fontweight='bold', labelpad=1)
            ax.set_xlabel('time (ms)', fontsize=10, fontweight='bold', labelpad=-1)

fig.savefig('out.png', dpi=100)
